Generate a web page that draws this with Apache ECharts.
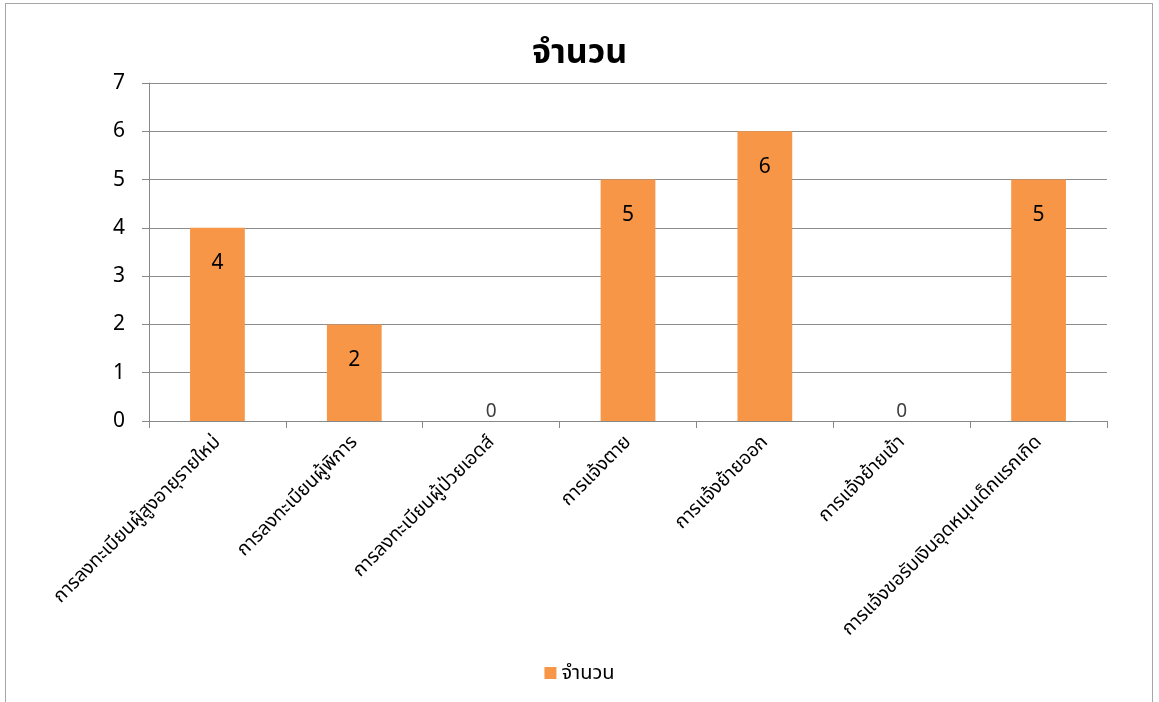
<!DOCTYPE html>
<html><head><meta charset="utf-8">
<script src="https://cdn.jsdelivr.net/npm/echarts@6/dist/echarts.min.js"></script>
<style>
html,body{margin:0;padding:0;background:#fff;}
#frame{position:absolute;left:5px;top:3px;width:1148px;height:720px;border:1px solid #a6a6a6;box-sizing:border-box;}
#c{position:absolute;left:0;top:0;width:1159px;height:702px;}
</style></head>
<body>
<div id="frame"></div>
<div id="c"></div>
<script>
const categories = [
  'การลงทะเบียนผู้สูงอายุรายใหม่',
  'การลงทะเบียนผู้พิการ',
  'การลงทะเบียนผู้ป่วยเอดส์',
  'การแจ้งตาย',
  'การแจ้งย้ายออก',
  'การแจ้งย้ายเข้า',
  'การแจ้งขอรับเงินอุดหนุนเด็กแรกเกิด'
];
const seriesName = 'จำนวน';
const values = [4, 2, 0, 5, 6, 0, 5];
const yTicks = {min: 0, max: 7, interval: 1};

const FONT = '"Noto Sans", "Noto Sans Thai", "DejaVu Sans", sans-serif';
const chart = echarts.init(document.getElementById('c'));
chart.setOption({
  animation: false,
  textStyle: {fontFamily: FONT},
  title: {
    text: seriesName, left: 'center', top: 31,
    textStyle: {fontSize: 34, fontWeight: 'bold', color: '#000', fontFamily: FONT}
  },
  legend: {
    bottom: 14, left: 'center', itemWidth: 12, itemHeight: 12, itemGap: 4, icon: 'rect',
    textStyle: {fontSize: 20, color: '#000', fontFamily: FONT},
    data: [seriesName]
  },
  grid: {left: 149, right: 52, top: 83, bottom: 281, containLabel: false},
  xAxis: {
    type: 'category', data: categories,
    axisLine: {lineStyle: {color: '#888', width: 1}},
    axisTick: {show: true, length: 7, lineStyle: {color: '#888'}},
    axisLabel: {rotate: 45, fontSize: 19, color: '#000', margin: 18, interval: 0, fontFamily: FONT}
  },
  yAxis: {
    type: 'value', min: yTicks.min, max: yTicks.max, interval: yTicks.interval,
    axisLine: {show: true, lineStyle: {color: '#888'}},
    axisTick: {show: true, length: 7, lineStyle: {color: '#888'}},
    splitLine: {lineStyle: {color: '#8c8c8c', width: 1}},
    axisLabel: {fontSize: 21, color: '#000', margin: 24, fontFamily: FONT}
  },
  series: [{
    name: seriesName, type: 'bar', barWidth: '40%',
    itemStyle: {color: '#F79646'},
    label: {show: true, position: 'insideTop', distance: 25, fontSize: 21, color: '#000', fontFamily: FONT},
    data: values.map(v => v === 0 ? {value: v, label: {position: 'top', distance: 0, fontSize: 19, color: '#404040'}} : v)
  }]
});
</script>
</body></html>
